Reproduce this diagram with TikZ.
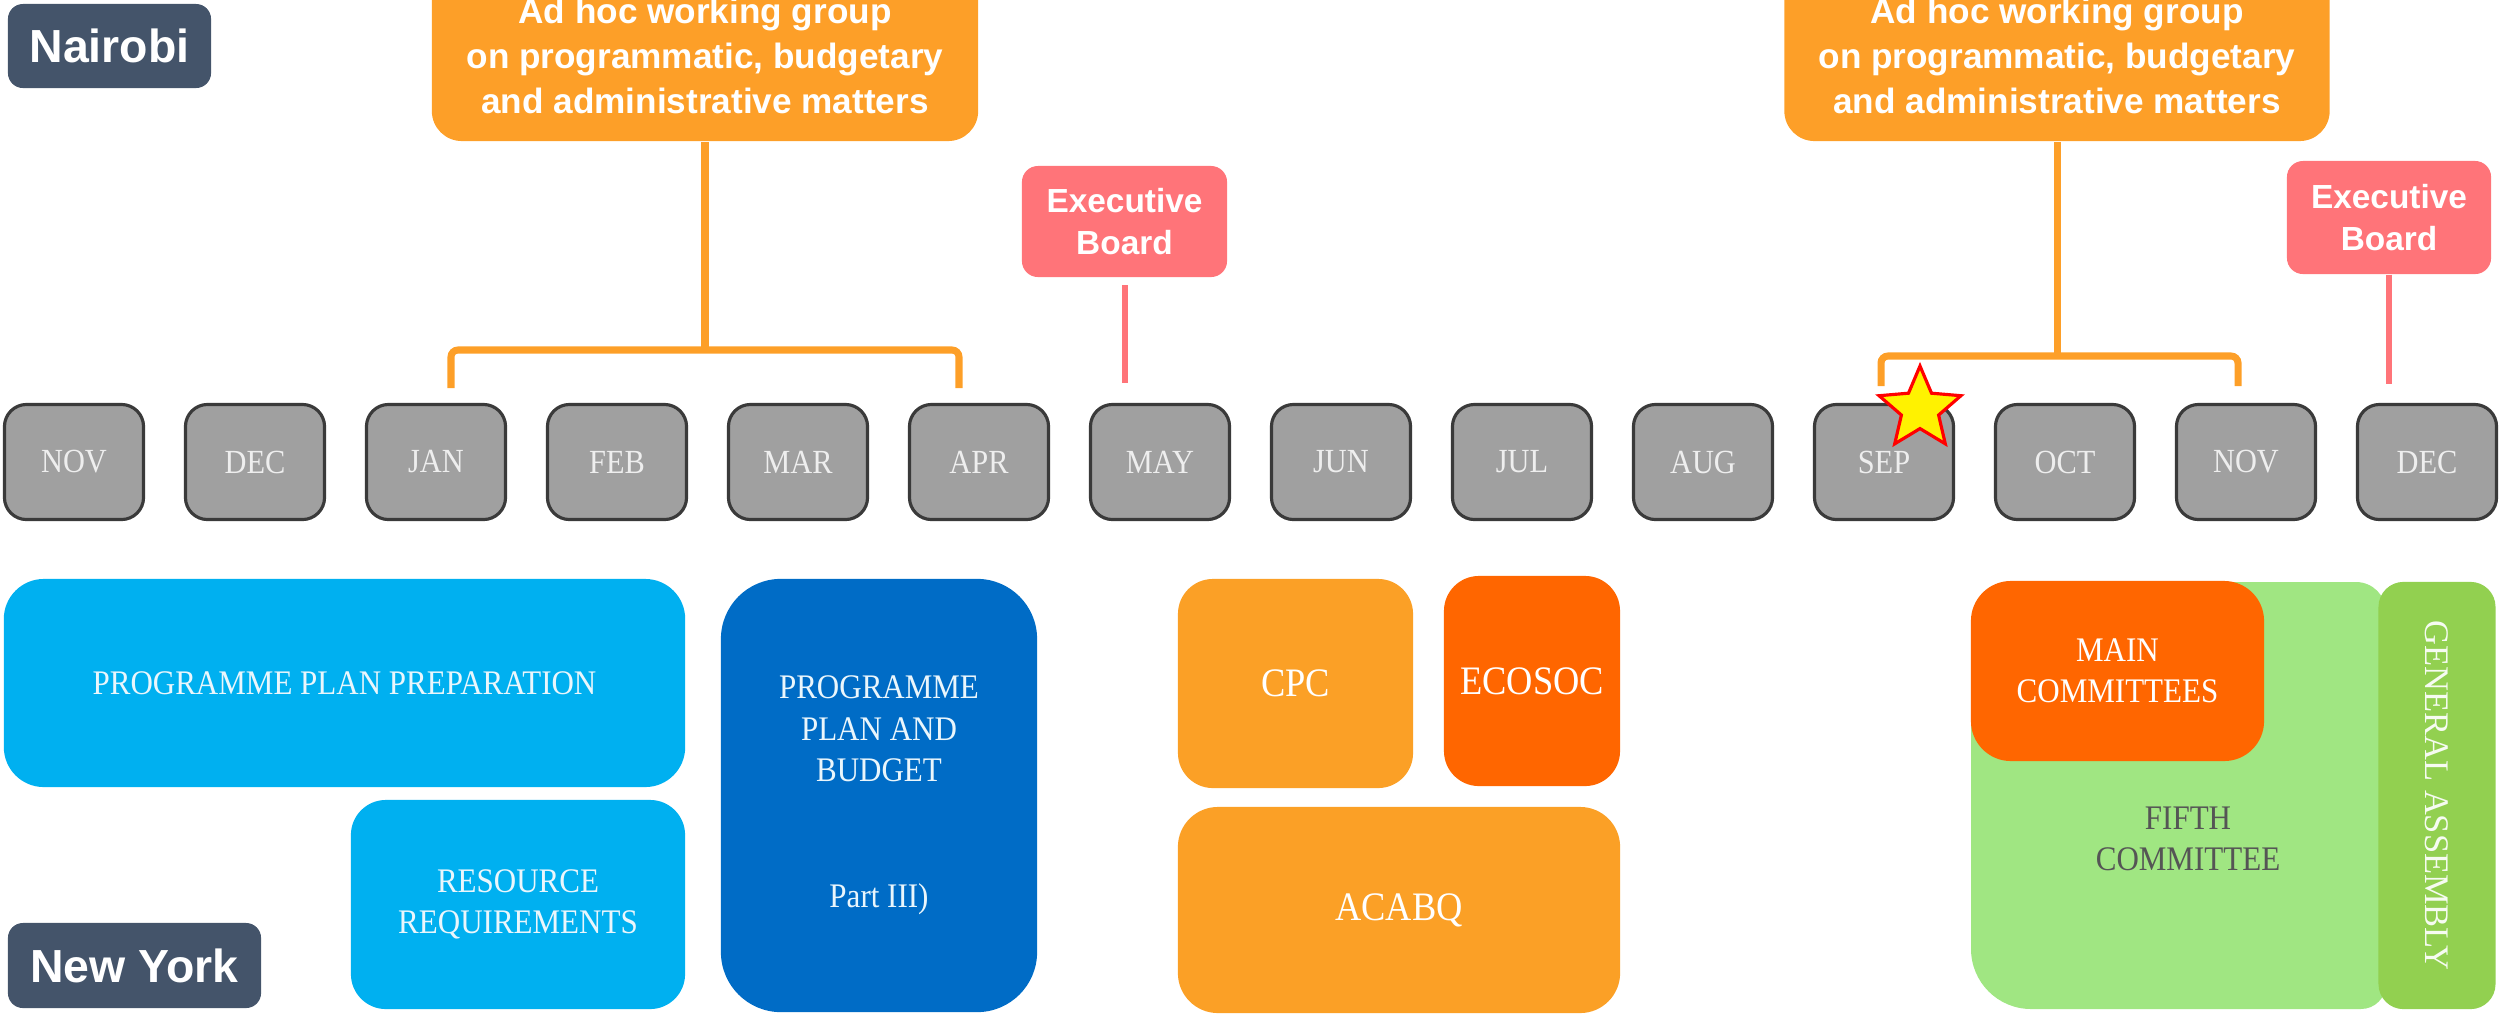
\documentclass[tikz,border=0pt]{standalone}
\usepackage{fontspec}
\setmainfont{Liberation Serif}
\newfontfamily\cserif[FakeStretch=0.9]{Liberation Serif}
\newfontfamily\hsans{Liberation Sans}
\usetikzlibrary{shapes.geometric}
\definecolor{slate}{HTML}{44546A}
\definecolor{adhocorange}{HTML}{FD9F28}
\definecolor{ebpink}{HTML}{FF7479}
\definecolor{monthgray}{HTML}{A0A0A0}
\definecolor{monthborder}{HTML}{3A3A3A}
\definecolor{monthtext}{HTML}{EEEEEE}
\definecolor{lightblue}{HTML}{00B0F0}
\definecolor{darkblue}{HTML}{006CC6}
\definecolor{boxorange}{HTML}{FBA026}
\definecolor{deeporange}{HTML}{FF6600}
\definecolor{lightgreen}{HTML}{A0E682}
\definecolor{gagreen}{HTML}{92D050}
\definecolor{fifthtext}{HTML}{555555}
\definecolor{boxtext}{HTML}{EAF6FC}
\begin{document}
\begin{tikzpicture}[x=0.01cm,y=-0.01cm,
  monthbox/.style={draw=monthborder, line width=0.9pt, fill=monthgray, rounded corners=0.22cm,
    minimum width=1.39cm, minimum height=1.15cm, inner sep=0pt, text=monthtext,
    font=\cserif\fontsize{9.6}{11}\selectfont},
  citybox/.style={fill=slate, rounded corners=0.15cm, inner sep=0pt, text=white,
    font=\hsans\bfseries\fontsize{13.2}{15}\selectfont},
  adhocbox/.style={fill=adhocorange, rounded corners=0.3cm, inner sep=0pt, text=white, align=center,
    minimum height=1.70cm, font=\hsans\bfseries\fontsize{10}{12.8}\selectfont},
  ebbox/.style={fill=ebpink, rounded corners=0.16cm, inner sep=0pt, text=white, align=center,
    font=\hsans\bfseries\fontsize{9.5}{11.7}\selectfont},
  bracket/.style={draw=adhocorange, line width=2pt},
  pinkline/.style={draw=ebpink, line width=1.5pt},
  blockbox/.style={inner sep=0pt, align=center, text=boxtext,
    font=\cserif\fontsize{9.8}{11.8}\selectfont},
  bigblock/.style={blockbox, text=white, font=\cserif\fontsize{11.5}{13}\selectfont},
  starmark/.style={star, star points=5, star point ratio=2.2, minimum size=0.86cm, inner sep=0pt,
    fill=yellow, draw=red, line width=0.9pt}
]
\useasboundingbox (0,0) rectangle (2499,1014);

% city labels
\node[citybox, minimum width=2.03cm, minimum height=0.84cm] (nairobi) at (109.5,46) {Nairobi};
\node[citybox, minimum width=2.53cm, minimum height=0.85cm] (newyork) at (134.5,965.5) {New York};

% months
\foreach \m [count=\i from 0] in {NOV,DEC,JAN,FEB,MAR,APR,MAY,JUN,JUL,AUG,SEP,OCT,NOV,DEC}
  \node[monthbox] (m\i) at ({74+181*\i},462) {\m};

% ad hoc working groups
\node[adhocbox, minimum width=5.46cm] (ah1) at (705,56)
  {Ad hoc working group\\on programmatic, budgetary\\and administrative matters};
\node[adhocbox, minimum width=5.45cm] (ah2) at (2057,56)
  {Ad hoc working group\\on programmatic, budgetary\\and administrative matters};

\coordinate (b1c) at (705,350);
\coordinate (b1l) at (451,388);
\coordinate (b1r) at (959,388);
\draw[bracket] (ah1.south) -- (b1c);
\draw[bracket, rounded corners=0.07cm] (b1l) -- (b1l |- b1c) -- (b1r |- b1c) -- (b1r);

\coordinate (b2c) at (2057,356);
\coordinate (b2l) at (1881,386);
\coordinate (b2r) at (2238,386);
\draw[bracket] (ah2.south) -- (b2c);
\draw[bracket, rounded corners=0.07cm] (b2l) -- (b2l |- b2c) -- (b2r |- b2c) -- (b2r);

% executive boards
\node[ebbox, minimum width=2.05cm, minimum height=1.11cm] (eb1) at (1124.5,221.5) {Executive\\Board};
\node[ebbox, minimum width=2.04cm, minimum height=1.13cm] (eb2) at (2389,217.5) {Executive\\Board};
\coordinate (e1a) at (1125,285);
\coordinate (e1b) at (1125,383);
\coordinate (e2b) at (2389,384);
\draw[pinkline] (e1a) -- (e1b);
\draw[pinkline] (eb2.south) -- (e2b);

% star
\node[starmark] (star) at (1920,409) {};

% New York blocks
\node[blockbox, fill=lightblue, rounded corners=0.4cm, minimum width=6.81cm, minimum height=2.08cm]
  (ppp) at (344.5,683) {PROGRAMME PLAN PREPARATION};
\node[blockbox, fill=lightblue, rounded corners=0.35cm, minimum width=3.34cm, minimum height=2.09cm]
  (rr) at (518,904.5) {RESOURCE\\REQUIREMENTS};
\node[blockbox, fill=darkblue, rounded corners=0.6cm, minimum width=3.16cm, minimum height=4.33cm]
  (ppb) at (879,795.5) {PROGRAMME\\PLAN AND\\BUDGET\\[24pt]Part III)};

\node[bigblock, fill=boxorange, rounded corners=0.35cm, minimum width=2.35cm, minimum height=2.09cm]
  (cpc) at (1295.5,683.5) {CPC};
\node[bigblock, fill=deeporange, rounded corners=0.35cm, minimum width=1.76cm, minimum height=2.10cm]
  (ecosoc) at (1532,681) {ECOSOC};
\node[bigblock, fill=boxorange, rounded corners=0.4cm, minimum width=4.42cm, minimum height=2.06cm]
  (acabq) at (1399,910) {ACABQ};

% fifth committee background
\fill[lightgreen] (1971,700) [rounded corners=0.5cm] -- (1971,582) [rounded corners=0.3cm] -- (2386,582)
  [rounded corners=0.25cm] -- (2386,1009) [rounded corners=0.6cm] -- (1971,1009) -- (1971,700);
\node[blockbox, text=fifthtext] (fifth) at (2188,839) {FIFTH\\COMMITTEE};

\node[blockbox, text=white, fill=deeporange, rounded corners=0.4cm, minimum width=2.93cm, minimum height=1.80cm]
  (main) at (2117.5,671) {MAIN\\COMMITTEES};
\node[blockbox, fill=gagreen, rotate=-90, rounded corners=0.25cm, minimum width=4.27cm, minimum height=1.17cm,
  text=white!92!gagreen, font=\rmfamily\fontsize{9.8}{11}\selectfont]
  (ga) at (2437,795.5) {GENERAL ASSEMBLY};
\end{tikzpicture}
\end{document}
